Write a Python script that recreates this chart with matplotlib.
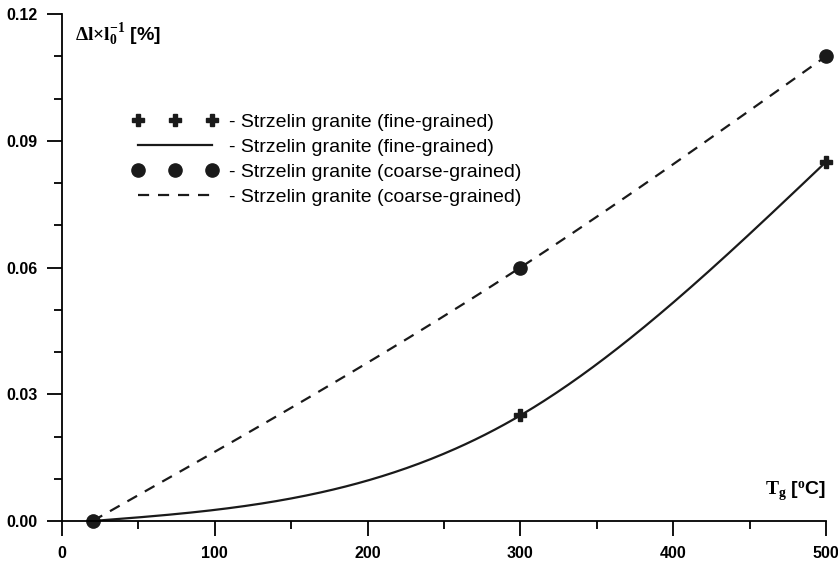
import numpy as np
import matplotlib.pyplot as plt
from matplotlib.lines import Line2D
from matplotlib.ticker import MultipleLocator

plt.rcParams['font.family'] = ['Liberation Sans', 'DejaVu Sans']
plt.rcParams['mathtext.fontset'] = 'custom'
plt.rcParams['mathtext.rm'] = 'Liberation Serif:bold'
plt.rcParams['mathtext.it'] = 'Liberation Serif:bold'
plt.rcParams['mathtext.bf'] = 'Liberation Serif:bold'

temp = [20, 300, 500]
fine = [0.0, 0.025, 0.085]
coarse = [0.0, 0.060, 0.110]
label_fine = '- Strzelin granite (fine-grained)'
label_coarse = '- Strzelin granite (coarse-grained)'


def natural_spline(x, y, xs):
    # natural cubic spline through the measured points
    x = np.asarray(x, float)
    y = np.asarray(y, float)
    n = len(x)
    h = np.diff(x)
    A = np.zeros((n, n))
    b = np.zeros(n)
    A[0, 0] = A[-1, -1] = 1
    for i in range(1, n - 1):
        A[i, i - 1] = h[i - 1]
        A[i, i] = 2 * (h[i - 1] + h[i])
        A[i, i + 1] = h[i]
        b[i] = 6 * ((y[i + 1] - y[i]) / h[i] - (y[i] - y[i - 1]) / h[i - 1])
    M = np.linalg.solve(A, b)
    out = np.empty_like(xs)
    for j, xv in enumerate(xs):
        i = min(np.searchsorted(x, xv, side='right') - 1, n - 2)
        i = max(i, 0)
        t0, t1 = x[i + 1] - xv, xv - x[i]
        out[j] = (M[i] * t0**3 + M[i + 1] * t1**3) / (6 * h[i]) \
            + (y[i] / h[i] - M[i] * h[i] / 6) * t0 \
            + (y[i + 1] / h[i] - M[i + 1] * h[i] / 6) * t1
    return out


xs = np.linspace(temp[0], temp[-1], 300)
fit_fine = natural_spline(temp, fine, xs)
fit_coarse = natural_spline(temp, coarse, xs)

fig = plt.figure(figsize=(8.38, 5.63), dpi=100)
ax = fig.add_axes([62 / 838, 42 / 563, 764 / 838, 507 / 563])

ax.plot(xs, fit_fine, color='#1a1a1a', lw=1.6)
ax.plot(xs, fit_coarse, color='#1a1a1a', lw=1.6, ls=(0, (5, 4)))
ax.plot(temp, fine, ls='none', marker='P', ms=8, color='#1a1a1a', clip_on=False)
ax.plot(temp, coarse, ls='none', marker='o', ms=9.5, color='#1a1a1a', clip_on=False)

ax.set_xlim(0, 500)
ax.set_ylim(0, 0.12)
ax.xaxis.set_major_locator(MultipleLocator(100))
ax.xaxis.set_minor_locator(MultipleLocator(50))
ax.yaxis.set_major_locator(MultipleLocator(0.03))
ax.yaxis.set_minor_locator(MultipleLocator(0.01))
ax.yaxis.set_major_formatter(plt.FormatStrFormatter('%.2f'))
for s in ['top', 'right']:
    ax.spines[s].set_visible(False)
for s in ['left', 'bottom']:
    ax.spines[s].set_linewidth(1.3)
ax.tick_params(which='major', direction='out', length=11, width=1.3, labelsize=11.5)
ax.tick_params(which='minor', direction='out', length=5.8, width=1.3)
ax.tick_params(axis='x', which='major', pad=7)
ax.tick_params(axis='y', which='major', pad=6.5)
for lab in ax.get_xticklabels() + ax.get_yticklabels():
    lab.set_fontweight('bold')

ax.text(0.017, 0.985, r'$\mathrm{\Delta l{\times}l_0^{-1}}$ [%]', transform=ax.transAxes,
        fontsize=14, fontweight='bold', va='top', ha='left')
ax.text(1.0, 0.035, r'$\mathrm{T_g}$ [$\mathrm{^o}$C]', transform=ax.transAxes,
        fontsize=14, fontweight='bold', va='bottom', ha='right')

handles = [
    Line2D([], [], ls='none', marker='P', ms=8, color='#1a1a1a'),
    Line2D([], [], ls='-', lw=1.6, color='#1a1a1a'),
    Line2D([], [], ls='none', marker='o', ms=9.5, color='#1a1a1a'),
    Line2D([], [], ls=(0, (5, 4)), lw=1.6, color='#1a1a1a'),
]
labels = [label_fine, label_fine, label_coarse, label_coarse]
ax.legend(handles, labels, loc='upper left', bbox_to_anchor=(132 / 838, 1 - 113 / 563),
          bbox_transform=fig.transFigure, frameon=False, borderpad=0, borderaxespad=0,
          numpoints=3, handlelength=4.4, handletextpad=0.6, labelspacing=0.38, fontsize=14)

fig.savefig('out.png', dpi=100)
